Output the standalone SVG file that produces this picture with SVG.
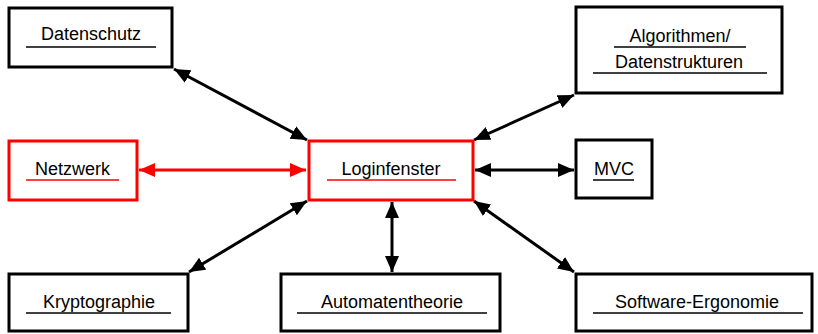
<svg xmlns="http://www.w3.org/2000/svg" width="818" height="334" viewBox="0 0 818 334">
<style>
.box{fill:#fff;stroke:#000;stroke-width:3}
.red .box{stroke:#f00}
text{font-family:"Liberation Sans",Arial,sans-serif;font-size:18px;fill:#000;text-anchor:middle}
.ul{stroke:#000;stroke-width:1.5}
.red .ul{stroke:#f00}
.con{stroke:#000;stroke-width:3;fill:none;marker-start:url(#ah);marker-end:url(#ah)}
.con.r{stroke:#f00;marker-start:url(#ahr);marker-end:url(#ahr)}
</style>
<defs>
<marker id="ah" markerUnits="userSpaceOnUse" markerWidth="17" markerHeight="15" refX="16" refY="7" orient="auto-start-reverse"><path d="M0,0 L16,7 L0,14 z" fill="#000"/></marker>
<marker id="ahr" markerUnits="userSpaceOnUse" markerWidth="17" markerHeight="15" refX="16" refY="7" orient="auto-start-reverse"><path d="M0,0 L16,7 L0,14 z" fill="#f00"/></marker>
</defs>
<g id="connectors">
<line class="con" x1="174" y1="69" x2="307" y2="140"/>
<line class="con" x1="574" y1="95" x2="474" y2="140"/>
<line class="con r" x1="139" y1="170" x2="306" y2="170"/>
<line class="con" x1="475" y1="170" x2="574" y2="170"/>
<line class="con" x1="189" y1="272" x2="307" y2="201"/>
<line class="con" x1="392" y1="202" x2="392" y2="272"/>
<line class="con" x1="474" y1="201" x2="574" y2="272"/>
</g>
<g id="datenschutz"><rect class="box" x="9" y="8" width="163" height="59"/><text x="91" y="40">Datenschutz</text><line class="ul" x1="26" y1="47" x2="156" y2="47"/></g>
<g id="algorithmen"><rect class="box" x="576" y="7" width="206" height="86"/><text x="680" y="42">Algorithmen/</text><line class="ul" x1="614" y1="47" x2="746" y2="47"/><text x="679" y="68">Datenstrukturen</text><line class="ul" x1="593" y1="73" x2="767" y2="73"/></g>
<g id="netzwerk" class="red"><rect class="box" x="9" y="141" width="128" height="59"/><text x="72.5" y="175">Netzwerk</text><line class="ul" x1="26" y1="180" x2="119" y2="180"/></g>
<g id="loginfenster" class="red"><rect class="box" x="309" y="141" width="164" height="59"/><text x="391" y="175">Loginfenster</text><line class="ul" x1="327" y1="180" x2="456" y2="180"/></g>
<g id="mvc"><rect class="box" x="576" y="140" width="76" height="58"/><text x="614" y="175">MVC</text><line class="ul" x1="593" y1="180" x2="634" y2="180"/></g>
<g id="kryptographie"><rect class="box" x="9" y="274" width="179" height="57"/><text x="99" y="308">Kryptographie</text><line class="ul" x1="26" y1="313" x2="171" y2="313"/></g>
<g id="automatentheorie"><rect class="box" x="281" y="274" width="219" height="57"/><text x="392" y="308">Automatentheorie</text><line class="ul" x1="297" y1="313" x2="487" y2="313"/></g>
<g id="software"><rect class="box" x="576" y="274" width="236" height="57"/><text x="697" y="308">Software-Ergonomie</text><line class="ul" x1="593" y1="313" x2="803" y2="313"/></g>
</svg>
